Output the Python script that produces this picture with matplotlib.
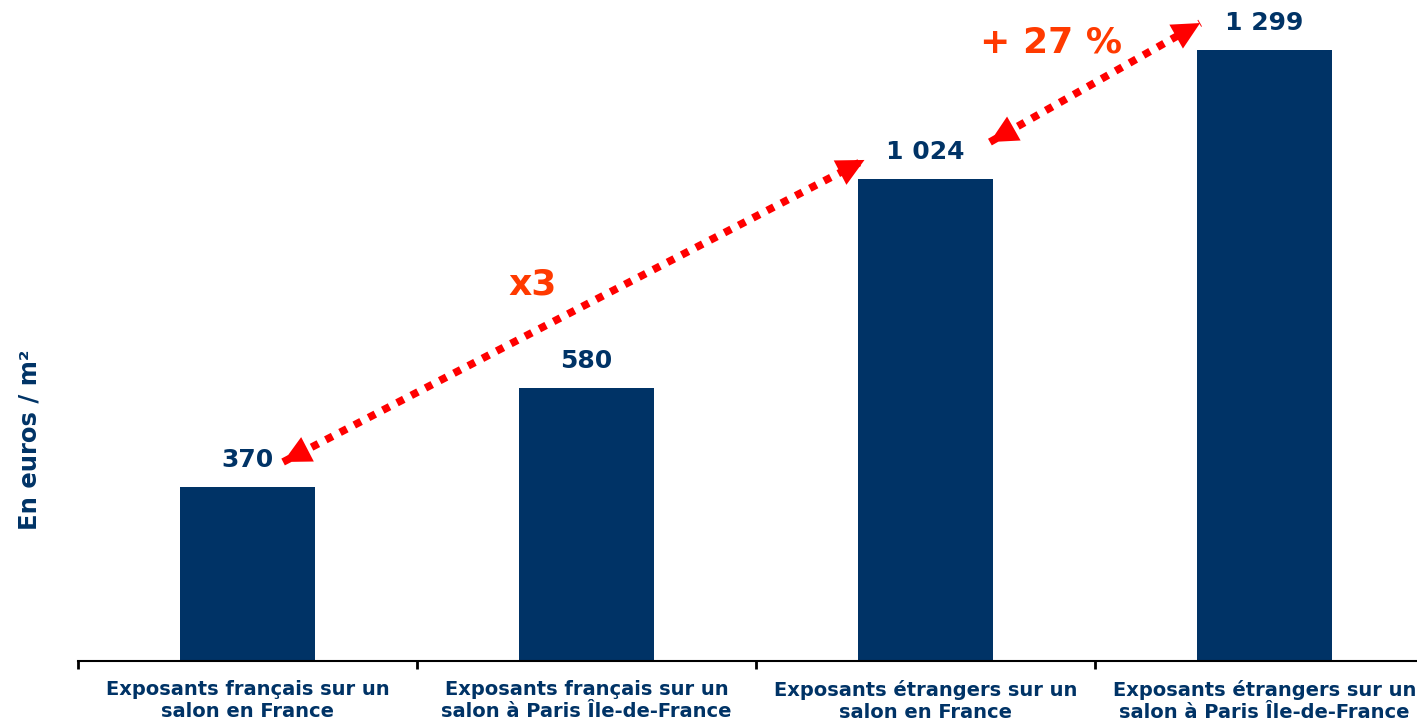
import numpy as np
import matplotlib.pyplot as plt

categories = ["Exposants français sur un\nsalon en France",
              "Exposants français sur un\nsalon à Paris Île-de-France",
              "Exposants étrangers sur un\nsalon en France",
              "Exposants étrangers sur un\nsalon à Paris Île-de-France"]
values = [370, 580, 1024, 1299]
value_labels = ["370", "580", "1 024", "1 299"]

navy = '#003366'
red = '#FF0000'
orange = '#FF3A00'

fig = plt.figure(figsize=(14.17, 7.21), dpi=100)
ax = fig.add_axes([78/1417, 60/721, 1356/1417, 661/721])

x = np.arange(len(values))
ax.bar(x, values, width=0.4, color=navy, zorder=2)
ax.set_xlim(-0.5, 3.5)
ax.set_ylim(0, 1405)

for xi, v, lab in zip(x, values, value_labels):
    ax.text(xi, v + 32, lab, ha='center', va='bottom', fontsize=18,
            fontweight='bold', color=navy, family='DejaVu Sans')

ax.spines[['left', 'top', 'right']].set_visible(False)
ax.spines['bottom'].set_linewidth(1.5)
ax.set_yticks([])
ax.set_xticks(x)
ax.set_xticklabels(categories, fontsize=14, fontweight='bold', color=navy,
                   family='DejaVu Sans', linespacing=1.2)
ax.tick_params(axis='x', which='major', length=0, pad=14)
ax.set_xticks(np.arange(-0.5, 4, 1), minor=True)
ax.tick_params(axis='x', which='minor', length=6, width=2, direction='out')

fig.text(30/1417, 1 - 440/721, "En euros / m²", rotation=90, ha='center', va='center',
         fontsize=17.5, fontweight='bold', color=navy, family='DejaVu Sans')


def dotted_arrow(x0, y0, x1, y1):
    ax.plot([x0, x1], [y0, y1], color=red, lw=5.5, linestyle=(0, (1, 1.1)),
            dash_capstyle='butt', zorder=3)
    for (xa, ya), (xb, yb) in [((x0, y0), (x1, y1)), ((x1, y1), (x0, y0))]:
        ax.annotate('', xy=(xa, ya), xytext=(xa + (xb - xa) * 0.04, ya + (yb - ya) * 0.04),
                    arrowprops=dict(arrowstyle='-|>,head_length=1.1,head_width=0.55',
                                    color=red, lw=0, mutation_scale=18,
                                    shrinkA=0, shrinkB=0), zorder=4)


dotted_arrow(0.105, values[0] + 53, 1.82, values[2] + 41)
dotted_arrow(2.19, values[2] + 79, 2.81, values[3] + 57)

ax.text(0.84, 800, "x3", ha='center', va='center', fontsize=26, fontweight='bold',
        color=orange, family='DejaVu Sans')
ax.text(2.37, 1315, "+ 27 %", ha='center', va='center', fontsize=26, fontweight='bold',
        color=orange, family='DejaVu Sans')

fig.savefig('out.png', dpi=100)
